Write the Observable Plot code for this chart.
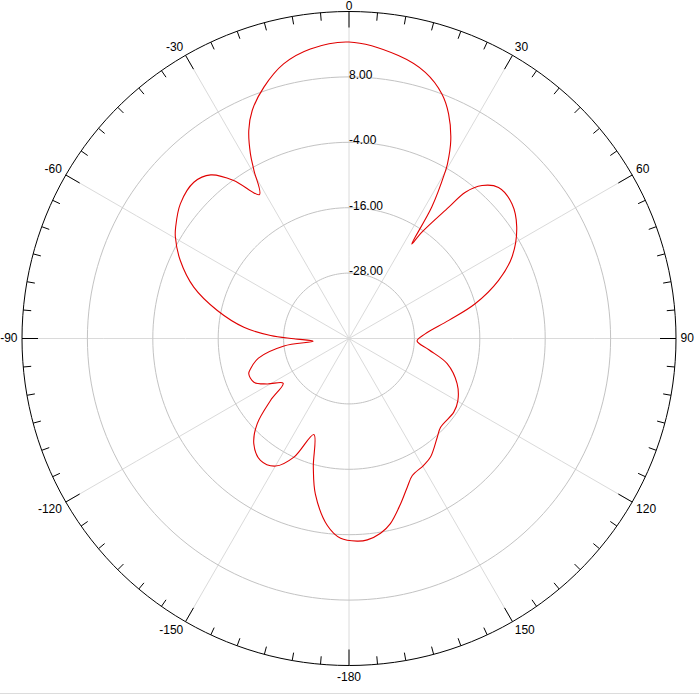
<!DOCTYPE html>
<html><head><meta charset="utf-8">
<script src="https://cdn.jsdelivr.net/npm/d3@7"></script>
<script src="https://cdn.jsdelivr.net/npm/@observablehq/plot@0.6"></script>
<style>
html,body{margin:0;padding:0;background:#fff;}
#chart{width:699px;height:693px;border-bottom:1px solid #dcdcdc;overflow:hidden;}
</style></head><body><div id="chart"></div>
<script>
// Pattern: angle in degrees (clockwise from top), gain in dB
const angles = [-177.6,-173.4,-167.8,-164.5,-159.9,-155.1,-150.1,-144.0,-137.9,-132.9,-128.3,-124.2,-119.0,-114.7,-109.4,-107.1,-102.2,-96.5,-94.3,-90.3,-87.8,-83.9,-78.0,-71.7,-65.2,-59.7,-57.3,-51.4,-44.8,-40.2,-36.1,-31.9,-29.5,-28.1,-25.7,-23.0,-18.7,-13.4,-7.6,0,9.9,16.0,20.8,23.9,27.2,29.4,30.0,32.2,33.6,34.4,37.2,38.5,41.0,44.7,50.4,56.4,63.5,68.8,74.6,79.7,86.5,92.0,98.0,104.4,112.7,119.7,125.1,134.1,138.2,145.5,149.5,155.2,158.6,162.7,167.4,170.8,174.8,177.7];
const gains = [-3.3,-5.45,-10.8,-15.5,-21.25,-16.0,-13.0,-12.35,-13.95,-17.0,-21.65,-25.4,-22.8,-20.8,-20.5,-21.1,-23.0,-28.0,-33.4,-29.9,-25.6,-20.6,-15.3,-10.0,-5.9,-3.1,-2.2,-0.4,0.4,-0.7,-4.1,-8.9,-4.6,-1.6,2.4,5.45,8.7,11.8,13.6,14.4,12.7,10.8,8.0,5.1,0.85,-3.2,-4.75,-11.5,-19.2,-16.4,-9.8,-5.7,-2.8,-1.0,-1.2,-3.05,-6.6,-10.6,-16.0,-21.4,-26.0,-27.5,-25.2,-21.4,-18.5,-17.0,-16.5,-16.6,-15.7,-13.6,-13.0,-12.3,-10.7,-8.2,-5.2,-3.8,-2.9,-2.8];

const radialMin = -40;
const radialMax = 20;
const ringValues = [-28, -16, -4, 8];
const spokeAngles = [0, 30, 60, 90, 120, 150, 180, 210, 240, 270, 300, 330];
const labelAngles = [0, 30, 60, 90, 120, 150, 180, 210, 240, 270, 300, 330];
const labelTexts = ["0", "30", "60", "90", "120", "150", "-180", "-150", "-120", "-90", "-60", "-30"];
const tickAngles = d3.range(0, 360, 5);

const pattern = angles.map((a, i) => ({angle: a, gain: gains[i]}));
const labels = labelAngles.map((a, i) => ({angle: a, text: labelTexts[i]}));

const R = 327; // outer radius in px (for tick lengths)
const lat = v => 90 - (v - radialMin) / (radialMax - radialMin) * 90;
const lon = t => 180 - t;
const pxToDeg = px => px / R * 90;

const labelMarks = [];
const sgn = v => Math.abs(v) < 1e-9 ? 0 : Math.sign(v);
for (const sx of [-1, 0, 1]) for (const cy of [-1, 0, 1]) {
  const sub = labels.filter(d => sgn(Math.sin(d.angle * Math.PI / 180)) === sx && sgn(Math.cos(d.angle * Math.PI / 180)) === cy);
  if (!sub.length) continue;
  labelMarks.push(Plot.text(sub, {
    x: d => lon(d.angle), y: () => -pxToDeg(4.5),
    text: "text",
    textAnchor: sx > 0 ? "start" : sx < 0 ? "end" : "middle",
    lineAnchor: cy > 0 ? "bottom" : cy < 0 ? "top" : "middle",
    dy: sx === 0 ? 2.5 : 0,
    fontSize: 12, fill: "black"
  }));
}

const chart = Plot.plot({
  width: 699,
  height: 693,
  marginLeft: 21.5,
  marginRight: 23.5,
  marginTop: 11,
  marginBottom: 28,
  style: {fontFamily: "'Liberation Sans', Arial, sans-serif", fontSize: "12px", background: "white", color: "black", overflow: "visible"},
  projection: {
    type: "azimuthal-equidistant",
    rotate: [0, -90],
    clip: false,
    domain: d3.geoCircle().center([0, 90]).radius(90)()
  },
  marks: [
    Plot.link(spokeAngles, {x1: d => lon(d), y1: () => 90, x2: d => lon(d), y2: () => 0, stroke: "#dadada", strokeWidth: 1}),
    Plot.geo(ringValues.map(v => d3.geoCircle().center([0, 90]).radius(90 - lat(v))()), {stroke: "#c3c3c3", fill: "none", strokeWidth: 1}),
    Plot.text(ringValues, {x: () => 180, y: d => lat(d), text: d => d.toFixed(2), textAnchor: "start", dy: -2, fontSize: 12, fill: "black"}),
    Plot.geo(d3.geoCircle().center([0, 90]).radius(90)(), {stroke: "black", fill: "none", strokeWidth: 1}),
    Plot.link(tickAngles, {x1: d => lon(d), y1: () => 0, x2: d => lon(d), y2: d => pxToDeg(d % 30 === 0 ? 16 : 8), stroke: "black", strokeWidth: 1}),
    ...labelMarks,
    Plot.line(pattern, {x: d => lon(d.angle), y: d => lat(d.gain), stroke: "#e00000", strokeWidth: 1.1, curve: "catmull-rom-closed"})
  ]
});
document.getElementById("chart").append(chart);
</script>
</body></html>
